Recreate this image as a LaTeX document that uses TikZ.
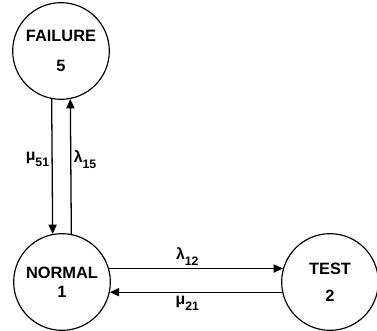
\documentclass[tikz,border=0pt]{standalone}
\usepackage{fontspec}
\setmainfont{Liberation Sans}
\usetikzlibrary{arrows.meta}
\definecolor{bg}{HTML}{FFFFFF}
\definecolor{ink}{HTML}{000000}
\newcommand{\rate}[2]{#1\raisebox{-5pt}{\fontsize{10.5}{12}\selectfont #2}}

\begin{document}
\begin{tikzpicture}[x=1cm,y=1cm,line cap=round,line join=round,
  state/.style={circle,draw=ink,line width=1pt,minimum size=2.9cm,inner sep=0pt,
    align=center,font=\fontsize{14}{16}\selectfont\bfseries},
  trans/.style={-{Triangle[length=8pt,width=7pt]},line width=1.1pt,ink},
  lbl/.style={font=\fontsize{13.5}{15}\selectfont\bfseries,text=ink,inner sep=2pt}]
  \fill[bg] (0,0) rectangle (11.31,9.93);
  \useasboundingbox (0,0) rectangle (11.31,9.93);

  % ---- states ----
  \node[state] (fail) at (1.83,8.40) {FAILURE\\[9pt]5};
  \node[state] (norm) at (1.86,1.47) {NORMAL\\[0pt]1};
  \node[state] (test) at (9.90,1.47) {TEST\\[7pt]2};

  % ---- transitions ----
  % repair 5 -> 1 and failure 1 -> 5
  \draw[trans] (fail.-101) -- node[lbl,left,pos=0.45] {\rate{μ}{51}} (norm.101);
  \draw[trans] (norm.79) -- node[lbl,right,pos=0.55] {\rate{λ}{15}} (fail.-79);
  % test 1 -> 2 and back 2 -> 1
  \draw[trans] (norm.16) -- node[lbl,above,pos=0.45] {\rate{λ}{12}} (test.164);
  \draw[trans] (test.192) -- node[lbl,below,pos=0.55,yshift=-1pt] {\rate{μ}{21}} (norm.-12);
\end{tikzpicture}
\end{document}
